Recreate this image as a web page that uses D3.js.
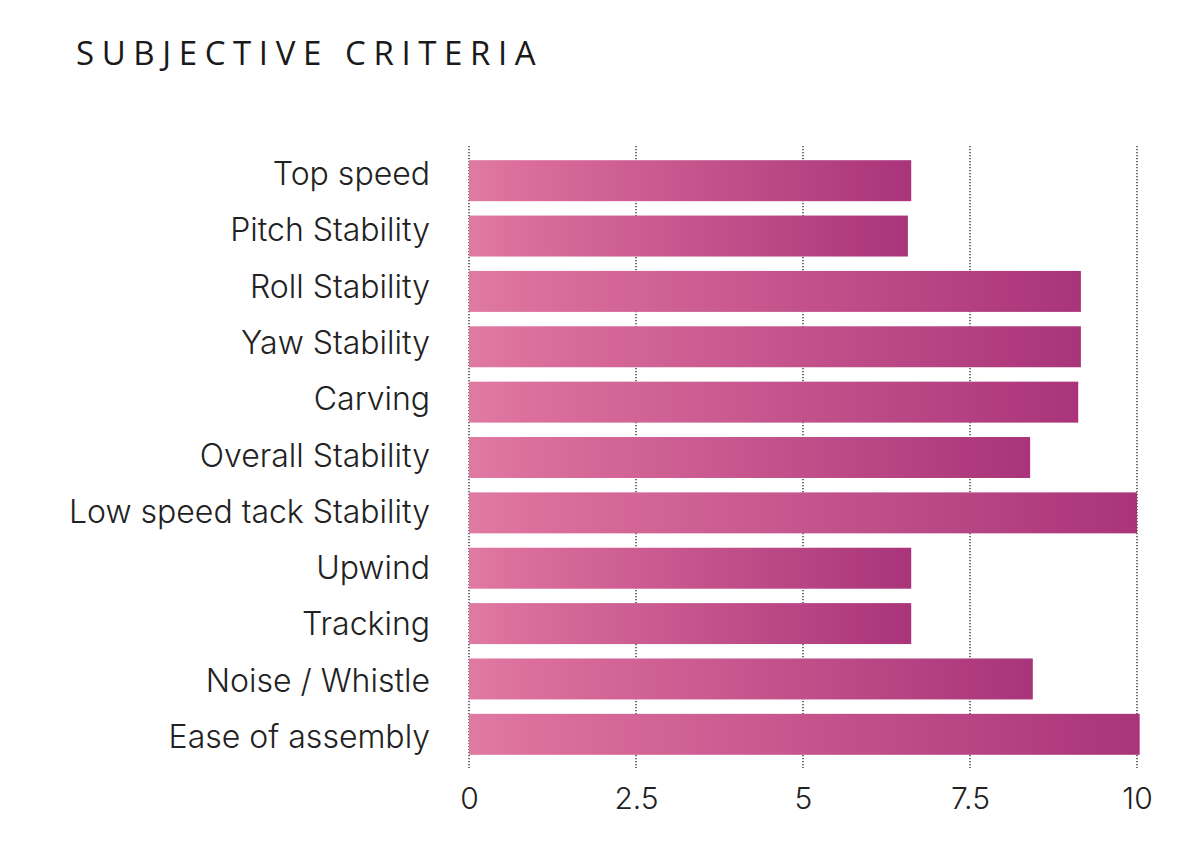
<!DOCTYPE html>
<html><head><meta charset="utf-8">
<script src="https://cdn.jsdelivr.net/npm/d3@7"></script>
<style>body{margin:0;background:#fff;} svg{display:block;}</style>
</head><body>
<svg id="c" width="1184" height="852"></svg>
<script>
const categories = ["Top speed","Pitch Stability","Roll Stability","Yaw Stability","Carving","Overall Stability","Low speed tack Stability","Upwind","Tracking","Noise / Whistle","Ease of assembly"];
const values = [6.62,6.57,9.16,9.16,9.12,8.40,10.0,6.62,6.62,8.44,10.04];
const tickValues = [0,2.5,5,7.5,10];
const tickLabels = ["0","2.5","5","7.5","10"];
const title = "SUBJECTIVE CRITERIA";

const svg = d3.select("#c");
const x = d3.scaleLinear().domain([0,10]).range([469,1137]);
const y = d3.scaleBand().domain(categories).range([153,762]).paddingInner(0.26).paddingOuter(0.13);
const yLabel = d3.scalePoint().domain(categories).range([185,748]);

const defs = svg.append("defs");
const g = defs.append("linearGradient").attr("id","grad").attr("x1","0").attr("x2","1").attr("y1","0").attr("y2","0");
g.append("stop").attr("offset","0").attr("stop-color","#df7ba3");
g.append("stop").attr("offset","0.1").attr("stop-color","#dc6f9c");
g.append("stop").attr("offset","1").attr("stop-color","#a9347a");

svg.append("text").attr("x",76).attr("y",65).text(title)
  .attr("font-family","Open Sans, sans-serif").attr("font-size",33).attr("letter-spacing","7.6px")
  .attr("fill","#1a1a1a");

// gridlines
svg.append("g").selectAll("line").data(tickValues).join("line")
  .attr("x1",d=>x(d)).attr("x2",d=>x(d)).attr("y1",146).attr("y2",768)
  .attr("stroke","#111").attr("stroke-width",1.2).attr("stroke-dasharray","1.2,1.8");

// bars
svg.append("g").selectAll("rect").data(categories).join("rect")
  .attr("x",x(0)).attr("y",d=>y(d)).attr("width",(d,i)=>x(values[i])-x(0)).attr("height",y.bandwidth())
  .attr("fill","url(#grad)");

// category labels
svg.append("g").selectAll("text").data(categories).join("text")
  .attr("x",430).attr("y",d=>yLabel(d)).attr("text-anchor","end")
  .attr("font-family","Inter, sans-serif").attr("font-weight",300).attr("font-size",32)
  .attr("fill","#222").text(d=>d);

// x axis
const ax = svg.append("g").attr("transform","translate(0,768)")
  .call(d3.axisBottom(x).tickValues(tickValues).tickFormat((d,i)=>tickLabels[i]).tickSize(0).tickPadding(20));
ax.select(".domain").remove();
ax.selectAll("text").attr("font-family","Inter, sans-serif").attr("font-weight",300).attr("font-size",30).attr("fill","#222").attr("dy","0.7em");
</script>
</body></html>
